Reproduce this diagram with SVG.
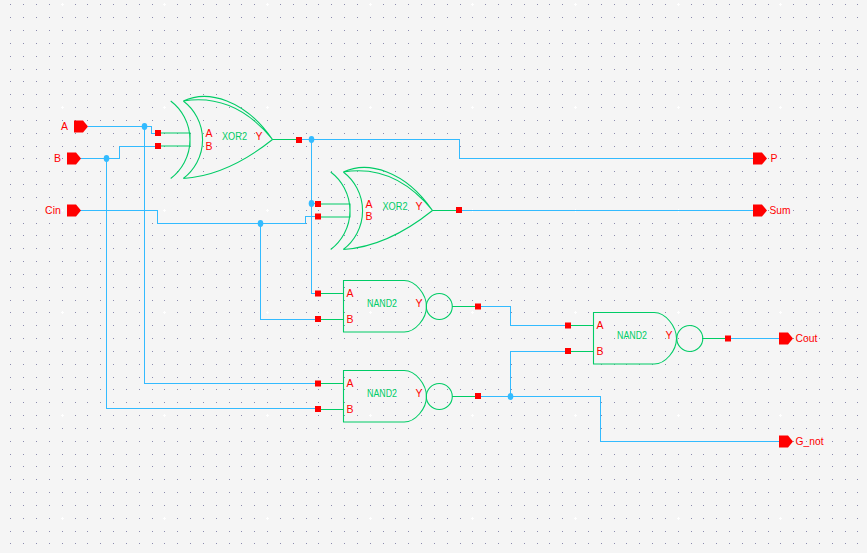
<svg xmlns="http://www.w3.org/2000/svg" xmlns:xlink="http://www.w3.org/1999/xlink" width="867" height="553" viewBox="0 0 867 553">
<style>
.wire{fill:none;stroke:#33bbff;stroke-width:1;shape-rendering:crispEdges}
.sym{fill:none;stroke:#00cc66;stroke-width:1.1}
.j{fill:#33bbff}
.sq{fill:#ff0000}
.pin{fill:#ff0000}
text{font-family:"Liberation Sans",Arial,sans-serif;font-size:10.5px;dominant-baseline:central;transform:translateY(-.7px)}
.r{fill:#ff0000;text-anchor:middle}
.l{fill:#ff0000}
.g{fill:#00cc66;text-anchor:middle}
</style>
<defs>
<path id="col" fill="none" stroke="#8c8cae" stroke-width="1" d="M0 4.500h1M0 17.500h1M0 30.500h1M0 43.500h1M0 56.500h1M0 69.500h1M0 81.500h1M0 94.500h1M0 107.500h1M0 120.500h1M0 133.500h1M0 146.500h1M0 158.500h1M0 171.500h1M0 184.500h1M0 197.500h1M0 210.500h1M0 223.500h1M0 235.500h1M0 248.500h1M0 261.500h1M0 274.500h1M0 287.500h1M0 300.500h1M0 312.500h1M0 325.500h1M0 338.500h1M0 351.500h1M0 364.500h1M0 377.500h1M0 389.500h1M0 402.500h1M0 415.500h1M0 428.500h1M0 441.500h1M0 454.500h1M0 466.500h1M0 479.500h1M0 492.500h1M0 505.500h1M0 518.500h1M0 531.500h1M0 543.500h1"/>
<path id="wcol" fill="none" stroke="#ffffff" stroke-width="1" d="M-1 4.500h3M.5 3v3M-1 107.500h3M.5 106v3M-1 210.500h3M.5 209v3M-1 312.500h3M.5 311v3M-1 415.500h3M.5 414v3M-1 518.500h3M.5 517v3"/>
<path id="xorshape" d="M-19.300 -38.500A48.600 48.600 0 0 1 -19.300 39M-6.700 -38.500A48.600 48.600 0 0 1 -6.700 39M-6.700 -38.500C18 -50 55 -40 82.500 0M-6.700 -38.500C15 -42 50 -40 82.500 0M-6.700 39C25 37 55 22 82.500 0M-32 -6.500H0V6.500H-32M82.500 0H109"/>
<path id="nandshape" d="M0 -26H60.700C72 -26 83 -12 83 0C83 12 72 25.500 60.700 25.500H0ZM-25 -13H0M-25 13H0M108.500 0H135"/>
<rect id="s" class="sq" x="-3" y="-3" width="6" height="6"/>
<ellipse id="d" class="j" cx="0" cy="0" rx="2.800" ry="3.400"/>
<path id="p" class="pin" d="M0 -6H9L14 0L9 6H0Z"/>
</defs>
<rect width="867" height="553" fill="#f5f5f5"/>
<g id="grid">
<use xlink:href="#col" x="10"/><use xlink:href="#col" x="23"/><use xlink:href="#col" x="36"/><use xlink:href="#col" x="49"/><use xlink:href="#col" x="62"/><use xlink:href="#col" x="75"/><use xlink:href="#col" x="87"/><use xlink:href="#col" x="100"/><use xlink:href="#col" x="113"/><use xlink:href="#col" x="126"/><use xlink:href="#col" x="139"/><use xlink:href="#col" x="152"/><use xlink:href="#col" x="164"/><use xlink:href="#col" x="177"/><use xlink:href="#col" x="190"/><use xlink:href="#col" x="203"/><use xlink:href="#col" x="216"/><use xlink:href="#col" x="229"/><use xlink:href="#col" x="241"/><use xlink:href="#col" x="254"/><use xlink:href="#col" x="267"/><use xlink:href="#col" x="280"/><use xlink:href="#col" x="293"/><use xlink:href="#col" x="306"/><use xlink:href="#col" x="318"/><use xlink:href="#col" x="331"/><use xlink:href="#col" x="344"/><use xlink:href="#col" x="357"/><use xlink:href="#col" x="370"/><use xlink:href="#col" x="383"/><use xlink:href="#col" x="395"/><use xlink:href="#col" x="408"/><use xlink:href="#col" x="421"/><use xlink:href="#col" x="434"/><use xlink:href="#col" x="447"/><use xlink:href="#col" x="460"/><use xlink:href="#col" x="472"/><use xlink:href="#col" x="485"/><use xlink:href="#col" x="498"/><use xlink:href="#col" x="511"/><use xlink:href="#col" x="524"/><use xlink:href="#col" x="537"/><use xlink:href="#col" x="549"/><use xlink:href="#col" x="562"/><use xlink:href="#col" x="575"/><use xlink:href="#col" x="588"/><use xlink:href="#col" x="601"/><use xlink:href="#col" x="614"/><use xlink:href="#col" x="626"/><use xlink:href="#col" x="639"/><use xlink:href="#col" x="652"/><use xlink:href="#col" x="665"/><use xlink:href="#col" x="678"/><use xlink:href="#col" x="691"/><use xlink:href="#col" x="703"/><use xlink:href="#col" x="716"/><use xlink:href="#col" x="729"/><use xlink:href="#col" x="742"/><use xlink:href="#col" x="755"/><use xlink:href="#col" x="768"/><use xlink:href="#col" x="780"/><use xlink:href="#col" x="793"/><use xlink:href="#col" x="806"/><use xlink:href="#col" x="819"/><use xlink:href="#col" x="832"/><use xlink:href="#col" x="845"/><use xlink:href="#col" x="857"/>
<use xlink:href="#wcol" x="62"/><use xlink:href="#wcol" x="164"/><use xlink:href="#wcol" x="267"/><use xlink:href="#wcol" x="370"/><use xlink:href="#wcol" x="472"/><use xlink:href="#wcol" x="575"/><use xlink:href="#wcol" x="678"/><use xlink:href="#wcol" x="780"/>
</g>
<g id="connectors">
<path class="wire" d="M88 126.500H151.500V133.500H158"/>
<path class="wire" d="M144.500 126.500V383.500H318"/>
<path class="wire" d="M80 158.500H119.500V146.500H158"/>
<path class="wire" d="M106.500 158.500V408.500H318"/>
<path class="wire" d="M80 210.500H157.500V223.500H305.500V216.500H318"/>
<path class="wire" d="M260.500 223.500V319.500H318"/>
<path class="wire" d="M299 139.500H459.500V158.500H753"/>
<path class="wire" d="M311.500 139.500V293.500H318"/>
<path class="wire" d="M311.500 203.500H318"/>
<path class="wire" d="M459 210.500H753"/>
<path class="wire" d="M478 306.500H510.500V325.500H568"/>
<path class="wire" d="M478 396.500H600.500V441.500H779"/>
<path class="wire" d="M510.500 396.500V351.500H568"/>
<path class="wire" d="M728 338.500H779"/>
<use xlink:href="#d" x="144.500" y="126.500"/>
<use xlink:href="#d" x="106.500" y="158.500"/>
<use xlink:href="#d" x="311.500" y="139.500"/>
<use xlink:href="#d" x="311.500" y="203.500"/>
<use xlink:href="#d" x="260.500" y="223.500"/>
<use xlink:href="#d" x="510.500" y="396.500"/>
</g>
<g id="xor1">
<use xlink:href="#xorshape" class="sym" transform="translate(190 139.500)"/>
<use xlink:href="#s" x="158" y="133"/><use xlink:href="#s" x="158" y="146"/><use xlink:href="#s" x="299" y="140"/>
<text class="r" x="209" y="134">A</text><text class="r" x="209" y="146.500">B</text>
<text class="g" x="234.500" y="136.500" textLength="25" lengthAdjust="spacingAndGlyphs">XOR2</text>
<text class="r" x="259" y="136.500">Y</text>
</g>
<g id="xor2">
<use xlink:href="#xorshape" class="sym" transform="translate(350 210.500)"/>
<use xlink:href="#s" x="318" y="204"/><use xlink:href="#s" x="318" y="216.500"/><use xlink:href="#s" x="459" y="210"/>
<text class="r" x="369" y="204.500">A</text><text class="r" x="369" y="217">B</text>
<text class="g" x="395" y="207" textLength="25" lengthAdjust="spacingAndGlyphs">XOR2</text>
<text class="r" x="419" y="207">Y</text>
</g>
<g id="nand1">
<use xlink:href="#nandshape" class="sym" transform="translate(343.500 306.500)"/>
<circle class="sym" cx="439.300" cy="306.500" r="13"/>
<use xlink:href="#s" x="318" y="293.500"/><use xlink:href="#s" x="318" y="319"/><use xlink:href="#s" x="478" y="306.500"/>
<text class="r" x="350" y="293.500">A</text><text class="r" x="350" y="319.500">B</text>
<text class="g" x="382" y="303.500" textLength="30" lengthAdjust="spacingAndGlyphs">NAND2</text>
<text class="r" x="419" y="303.500">Y</text>
</g>
<g id="nand2">
<use xlink:href="#nandshape" class="sym" transform="translate(343.500 396.500)"/>
<circle class="sym" cx="439.300" cy="396.500" r="13"/>
<use xlink:href="#s" x="318" y="383.500"/><use xlink:href="#s" x="318" y="409"/><use xlink:href="#s" x="478" y="396"/>
<text class="r" x="350" y="383.500">A</text><text class="r" x="350" y="409.500">B</text>
<text class="g" x="382" y="393.500" textLength="30" lengthAdjust="spacingAndGlyphs">NAND2</text>
<text class="r" x="419" y="393.500">Y</text>
</g>
<g id="nand3">
<use xlink:href="#nandshape" class="sym" transform="translate(593.500 338.500)"/>
<circle class="sym" cx="689.800" cy="338.500" r="13"/>
<use xlink:href="#s" x="568" y="325.500"/><use xlink:href="#s" x="568" y="351"/><use xlink:href="#s" x="728" y="338.500"/>
<text class="r" x="600" y="325.500">A</text><text class="r" x="600" y="351.500">B</text>
<text class="g" x="632" y="335.500" textLength="30" lengthAdjust="spacingAndGlyphs">NAND2</text>
<text class="r" x="669" y="335.500">Y</text>
</g>
<g id="pin-A"><use xlink:href="#p" x="74" y="126.500"/><text class="r" x="64.500" y="127">A</text></g>
<g id="pin-B"><use xlink:href="#p" x="67" y="158.500"/><text class="r" x="57.500" y="158.500">B</text></g>
<g id="pin-Cin"><use xlink:href="#p" x="67" y="210.500"/><text class="r" x="53" y="210.500">Cin</text></g>
<g id="pin-P"><use xlink:href="#p" x="753" y="158.500"/><text class="l" x="770.500" y="158.500">P</text></g>
<g id="pin-Sum"><use xlink:href="#p" x="753" y="210.500"/><text class="l" x="769.500" y="210.500" textLength="21" lengthAdjust="spacingAndGlyphs">Sum</text></g>
<g id="pin-Cout"><use xlink:href="#p" x="779" y="338.500"/><text class="l" x="795.500" y="338.500" textLength="22" lengthAdjust="spacingAndGlyphs">Cout</text></g>
<g id="pin-G_not"><use xlink:href="#p" x="779" y="441.500"/><text class="l" x="795.500" y="441.500" textLength="28" lengthAdjust="spacingAndGlyphs">G_not</text></g>
</svg>
